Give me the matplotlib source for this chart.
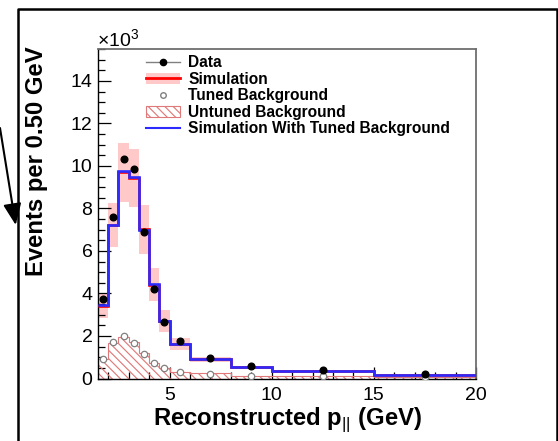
import numpy as np
import matplotlib
matplotlib.use('Agg')
import matplotlib.pyplot as plt
from matplotlib.lines import Line2D
from matplotlib.patches import Patch, FancyArrowPatch
from matplotlib.ticker import MultipleLocator

plt.rcParams['font.family'] = ['Liberation Sans', 'DejaVu Sans']
plt.rcParams['mathtext.fontset'] = 'custom'
plt.rcParams['mathtext.rm'] = 'Liberation Sans'
plt.rcParams['mathtext.bf'] = 'Liberation Sans:bold'
plt.rcParams['hatch.linewidth'] = 0.85

# bin edges in GeV, values in units of 10^3 events per 0.50 GeV
edges = [1.5, 2.0, 2.5, 3.0, 3.5, 4.0, 4.5, 5.0, 6.0, 8.0, 10.0, 15.0, 20.0]
data = [3.72, 7.58, 10.34, 9.86, 6.89, 4.19, 2.64, 1.76, 0.96, 0.58, 0.38, 0.19]
simulation = [3.42, 7.22, 9.70, 9.43, 7.02, 4.42, 2.71, 1.63, 0.90, 0.52, 0.36, 0.17]
sim_err = [0.57, 1.05, 1.38, 1.38, 1.14, 0.79, 0.51, 0.29, 0.12, 0.07, 0.05, 0.04]
sim_tuned = [3.45, 7.24, 9.75, 9.50, 7.00, 4.45, 2.72, 1.64, 0.91, 0.52, 0.36, 0.18]
bkg_tuned = [0.90, 1.73, 2.00, 1.68, 1.15, 0.74, 0.48, 0.31, 0.22, 0.13, 0.10, 0.07]
bkg_untuned = [0.94, 1.68, 1.96, 1.72, 1.22, 0.75, 0.50, 0.31, 0.24, 0.14, 0.11, 0.07]

edges = np.array(edges)
centers = 0.5 * (edges[:-1] + edges[1:])
widths = np.diff(edges)
simulation = np.array(simulation)
sim_err = np.array(sim_err)

W, H = 558, 441
fig = plt.figure(figsize=(W / 100, H / 100), dpi=100)
ax = fig.add_axes([98 / W, 1 - 378.5 / H, (476 - 98) / W, (378.5 - 49) / H])

red = '#ff0000'
blue = '#2b2bff'
pink = '#ffc9c9'
hatch_col = '#e07a7a'

# simulation uncertainty band
ax.bar(edges[:-1], 2 * sim_err, width=widths, bottom=simulation - sim_err,
       align='edge', color=pink, linewidth=0, zorder=1)

# untuned background, hatched
ax.stairs(bkg_untuned, edges, fill=True, facecolor='none', edgecolor=hatch_col,
          hatch='\\\\\\\\', linewidth=0.8, zorder=2)

ax.stairs(simulation, edges, baseline=None, color=red, linewidth=1.9, zorder=3)
ax.stairs(sim_tuned, edges, baseline=None, color=blue, linewidth=1.9, zorder=4)

ax.plot(centers, bkg_tuned, 'o', markersize=4.6, markerfacecolor='white',
        markeredgecolor='#808080', markeredgewidth=0.9, zorder=5)
ax.plot(centers, data, 'o', markersize=4.8, color='black', zorder=6)

ax.set_xlim(1.5, 20)
ax.set_ylim(0, 15.5)
ax.xaxis.set_major_locator(MultipleLocator(5))
ax.xaxis.set_minor_locator(MultipleLocator(1))
ax.yaxis.set_major_locator(MultipleLocator(2))
ax.yaxis.set_minor_locator(MultipleLocator(0.5))
ax.tick_params(which='both', direction='in', top=False, right=False, labelsize=14)
ax.tick_params(which='major', length=9, width=0.9)
ax.tick_params(which='minor', length=5, width=0.9)
ax.tick_params(axis='y', pad=4)
ax.tick_params(axis='x', pad=6)
for s in ['top', 'right']:
    ax.spines[s].set_color('#6e6e6e')
    ax.spines[s].set_linewidth(1.3)
for s in ['left', 'bottom']:
    ax.spines[s].set_linewidth(1.0)

fig.text(97 / W, 1 - 47 / H, r'$\times$10$^{3}$', fontsize=14, ha='left', va='baseline')

fig.text(37 / W, 1 - 46 / H, 'Events per 0.50 GeV', fontsize=17.2, fontweight='bold',
         rotation=90, ha='center', va='top')
fig.text(288 / W, 1 - 425 / H, r'Reconstructed $\mathbf{p}_{||}$ (GeV)', fontsize=17.2,
         fontweight='bold', ha='center', va='baseline')

handles = [
    Line2D([], [], color='#808080', linewidth=1.0, marker='o', markersize=4.5,
           markerfacecolor='black', markeredgecolor='black'),
    (Patch(facecolor=pink, edgecolor='none'), Line2D([], [], color=red, linewidth=2)),
    Line2D([], [], linestyle='none', marker='o', markersize=4, markerfacecolor='white',
           markeredgecolor='#808080'),
    Patch(facecolor='white', edgecolor=hatch_col, hatch='\\\\\\\\', linewidth=0.8),
    Line2D([], [], color=blue, linewidth=1.5),
]
labels = ['Data', 'Simulation', 'Tuned Background', 'Untuned Background',
          'Simulation With Tuned Background']
leg = ax.legend(handles, labels, loc='upper left', bbox_to_anchor=(146 / W, 1 - 55 / H),
                bbox_transform=fig.transFigure, frameon=False, borderpad=0, borderaxespad=0,
                handlelength=2.2, handleheight=0.7, handletextpad=0.5, labelspacing=0.1,
                prop={'size': 11.2, 'weight': 'bold'})

# outer box and arrow around the figure
fig.add_artist(Line2D([18 / W, 18 / W, 556.5 / W, 556.5 / W],
                      [0, 1 - 9 / H, 1 - 9 / H, 0], transform=fig.transFigure,
                      color='black', linewidth=1.8))
fig.add_artist(FancyArrowPatch(
    (0, 1 - 128 / H), (15.7 / W, 1 - 225 / H), transform=fig.transFigure,
    arrowstyle='-|>,head_length=13,head_width=5.5', color='black', linewidth=1.5,
    shrinkA=0, shrinkB=0))

fig.savefig('out.png', dpi=100)
